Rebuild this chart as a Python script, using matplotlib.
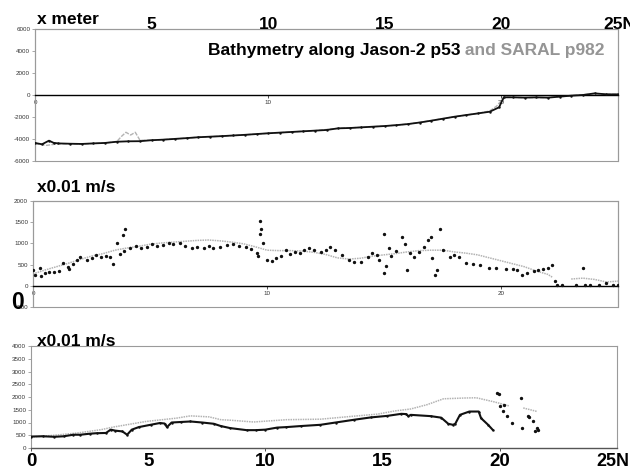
import matplotlib
matplotlib.use("Agg")
import matplotlib.pyplot as plt
from matplotlib.patches import Rectangle

plt.rcParams['font.family'] = ['Liberation Sans', 'DejaVu Sans']

# ---------------- data ----------------
# Bathymetry (m) along Jason-2 p53 (black) and SARAL p982 (gray)
jason_bx = [0, 0.3, 0.6, 0.8, 1.0, 1.5, 2, 2.5, 3, 3.5, 4, 4.5, 5, 5.5, 6, 6.5, 7, 7.5,
            8, 8.5, 9, 9.5, 10, 10.5, 11, 11.5, 12, 12.5, 13, 13.5, 14, 14.5, 15, 15.5,
            16, 16.5, 17, 17.5, 18, 18.5, 19, 19.5, 19.9, 20.1, 20.5, 21, 21.5, 22, 22.5,
            23, 23.5, 24, 24.5, 25]
jason_depth = [-4360, -4480, -4150, -4350, -4400, -4430, -4450, -4400, -4360, -4250, -4210,
               -4200, -4110, -4060, -3990, -3920, -3840, -3790, -3740, -3680, -3620, -3550,
               -3480, -3420, -3360, -3300, -3240, -3180, -3030, -3000, -2940, -2880, -2820,
               -2740, -2640, -2500, -2330, -2150, -1970, -1820, -1670, -1520, -1120, -210,
               -210, -240, -210, -240, -150, -60, 0, 150, 60, 60]
saral_bx = [0, 0.5, 1, 2, 3, 3.5, 3.7, 3.9, 4.1, 4.3, 4.5, 5, 6, 7, 8, 9, 10, 11, 12, 13,
            14, 15, 16, 17, 18, 19, 19.5, 19.8, 20.0, 20.2, 21, 22, 23, 24, 25]
saral_depth = [-4400, -4580, -4430, -4450, -4360, -4250, -3780, -3390, -3640, -3390, -4110,
               -4110, -3990, -3840, -3740, -3620, -3480, -3360, -3240, -3030, -2940, -2820,
               -2640, -2330, -1970, -1670, -1450, -1000, -500, -200, -240, -240, -60, 120, 50]

# Wind speed (x0.01 m/s) Jason2_p53 (black dots) and ECMWF (gray)
j2_x = [0.0, 0.1, 0.3, 0.35, 0.5, 0.7, 0.9, 1.1, 1.3, 1.5, 1.55, 1.7, 1.9, 2.0, 2.3, 2.5, 2.7,
        2.9, 3.1, 3.3, 3.4, 3.6, 3.7, 3.85, 3.95, 3.9, 4.15, 4.4, 4.6, 4.86, 5.1, 5.3, 5.57,
        5.8, 6.0, 6.3, 6.5, 6.8, 7.0, 7.3, 7.5, 7.7, 8.0, 8.3, 8.55, 8.8, 9.1, 9.3, 9.56, 9.6,
        9.7, 9.72, 9.75, 9.85, 10.0, 10.2, 10.4, 10.6, 10.8, 11.0, 11.2, 11.4, 11.6, 11.8,
        12.0, 12.3, 12.5, 12.7, 12.9, 13.2, 13.5, 13.7, 14.0, 14.3, 14.5, 14.7, 14.8, 15.0,
        15.0, 15.1, 15.2, 15.3, 15.5, 15.75, 15.9, 16.0, 16.1, 16.3, 16.5, 16.7, 16.9, 17.0,
        17.05, 17.2, 17.25, 17.4, 17.5, 17.8, 18.0, 18.2, 18.5, 18.8, 19.1, 19.5, 19.8, 20.2,
        20.5, 20.7, 20.9, 21.1, 21.4, 21.6, 21.8, 22.0, 22.2, 22.3, 22.4, 22.6, 23.5, 23.2,
        23.6, 23.8, 24.2, 24.5, 24.8, 25.0]
j2_v = [370, 250, 420, 230, 300, 330, 320, 360, 530, 440, 400, 520, 620, 680, 600, 650, 720,
        690, 700, 680, 510, 1000, 760, 1190, 1330, 820, 880, 950, 900, 920, 980, 950, 970,
        1000, 980, 1000, 940, 900, 920, 880, 930, 900, 920, 960, 990, 950, 920, 870, 770, 700,
        1230, 1540, 1340, 1000, 610, 580, 650, 700, 840, 750, 800, 770, 850, 880,
        850, 800, 850, 920, 850, 720, 620, 570, 570, 680, 770, 720, 600, 1210,
        300, 460, 880, 700, 820, 1150, 990, 380, 770, 680, 800, 920, 1070, 1150,
        650, 260, 370, 1350, 840, 680, 720, 680, 530, 520, 490, 420, 430, 400,
        390, 380, 260, 300, 360, 380, 390, 420, 490, 110, 20, 10, 430, 20,
        20, 20, 30, 60, 20, 20]
ec1_x = [0, 0.5, 1, 1.5, 2, 2.5, 3, 3.5, 4, 4.5, 5, 5.5, 6, 6.5, 7, 7.5, 8, 8.5, 9, 9.5, 10,
         10.5, 11, 11.5, 12, 12.5, 13, 13.5, 14, 14.5, 15, 15.5, 16, 16.5, 17, 17.5, 18, 18.5,
         19, 19.5, 20, 20.5, 21, 21.5, 22, 22.2]
ec1_v = [280, 370, 450, 530, 620, 700, 760, 840, 890, 930, 980, 1010, 1030, 1050, 1070, 1080,
         1060, 1030, 990, 920, 840, 830, 830, 820, 790, 740, 660, 630, 650, 700, 730, 760, 800,
         830, 840, 840, 800, 770, 730, 660, 590, 520, 450, 350, 270, 200]
ec1b_x = [23.0, 23.5, 24.0, 24.5, 25.0]
ec1b_v = [160, 180, 150, 90, 110]

# Wind speed (x0.01 m/s) SARAL_p982 (black) and ECMWF (gray)
sa_x = [0, 0.5, 1, 1.4, 1.8, 2.1, 2.5, 2.8, 3.2, 3.4, 3.6, 3.9, 4.1, 4.3, 4.6, 5.1, 5.5, 5.7,
        5.8, 6.0, 6.4, 6.8, 7.3, 7.8, 8.1, 8.5, 9.2, 9.6, 10.0, 10.5, 10.9, 11.5, 12.35, 13.0,
        13.8, 14.5, 15.2, 15.8, 16.0, 16.1, 16.2, 17.05, 17.5, 17.8, 18.0, 18.1, 18.3, 18.7,
        19.1, 19.2, 19.5, 19.7]
sa_v = [450, 460, 440, 460, 520, 520, 560, 580, 590, 720, 680, 650, 520, 720, 820, 910, 980,
        960, 820, 1000, 1020, 1040, 1000, 950, 860, 780, 700, 700, 720, 800, 820, 860, 910, 1000,
        1110, 1200, 1260, 1340, 1330, 1250, 1300, 1250, 1190, 950, 910, 950, 1300, 1430,
        1430, 1170, 910, 710]
sa_sc_x = [19.9, 19.95, 20.0, 20.2, 20.15, 20.3, 20.5, 20.9, 20.95, 21.2, 21.25, 21.4, 21.5,
           21.6, 21.65]
sa_sc_v = [2150, 2100, 1640, 1700, 1440, 1240, 990, 1970, 780, 1240, 1200, 1050, 650, 780, 690]
ec2_x = [0, 1, 2, 3, 3.5, 4.2, 4.9, 5.5, 6.2, 6.8, 7.6, 8.1, 8.5, 9.5, 10.9, 12.35, 13.8, 14.8,
         15.5, 16.2, 16.9, 17.6, 18.5, 19.0, 19.8, 20.4]
ec2_v = [430, 500, 590, 720, 820, 930, 1040, 1100, 1170, 1260, 1220, 1110, 1090, 1020, 1110,
         1130, 1250, 1330, 1450, 1530, 1700, 1930, 1960, 1970, 1800, 1650]
ec2b_x = [21.0, 21.3, 21.6]
ec2b_v = [1570, 1500, 1430]

top_labels = ["5", "10", "15", "20"]
top_pos = [5, 10, 15, 20]
bottom_labels = ["0", "5", "10", "15", "20"]
bottom_pos = [0, 5, 10, 15, 20]

# ---------------- figure ----------------
W, H = 630, 470
fig = plt.figure(figsize=(6.3, 4.7), dpi=100)


def add_ax(l, t, r, b):
    return fig.add_axes([l / W, 1 - b / H, (r - l) / W, (b - t) / H])


ax1 = add_ax(35, 29, 618, 161)
ax2 = add_ax(33, 201, 618, 307)
ax3 = add_ax(31, 346, 617, 448)

GRAY = '#9a9a9a'
LINEGRAY = '#b3b3b3'
TICKC = '#333333'


def style(ax, ylim, yticks, zero_axis=True):
    ax.set_xlim(0, 25)
    ax.set_ylim(*ylim)
    ax.set_yticks(yticks)
    ax.set_yticklabels([str(v) for v in yticks])
    for s in ['top', 'right', 'left']:
        ax.spines[s].set_color(GRAY)
        ax.spines[s].set_linewidth(0.8)
    ax.set_xticks([0, 10, 20])
    if zero_axis:
        ax.spines['bottom'].set_position(('data', 0))
        ax.spines['bottom'].set_color('black')
        ax.spines['bottom'].set_linewidth(1.0)
        ax.add_patch(Rectangle((0, 0), 1, 1, transform=ax.transAxes, fill=False,
                               ec=GRAY, lw=0.8, clip_on=False, zorder=0))
        ax.set_xticklabels(['0', '10', '20'])
    else:
        ax.spines['bottom'].set_color('#555555')
        ax.spines['bottom'].set_linewidth(1.0)
        ax.set_xticklabels([])
    ax.tick_params(axis='both', labelsize=4.5, colors=TICKC, length=2, width=0.6, pad=1.5,
                   direction='out')
    ax.tick_params(axis='y', colors=GRAY, labelcolor=TICKC)


style(ax1, (-6000, 6000), list(range(-6000, 6001, 2000)))
style(ax2, (-500, 2000), list(range(-500, 2001, 500)))
style(ax3, (0, 4000), list(range(0, 4001, 500)), zero_axis=False)

DOTTED = (0, (1, 0.6))

# panel 1
ax1.plot(saral_bx, saral_depth, color=LINEGRAY, lw=1.0, ls=(0, (3, 1)), zorder=2)
ax1.plot(jason_bx, jason_depth, color='#111111', lw=1.3, marker='.', ms=1.5, zorder=3)

# panel 2
ax2.plot(ec1_x, ec1_v, color=LINEGRAY, lw=1.1, ls=DOTTED, zorder=2)
ax2.plot(ec1b_x, ec1b_v, color=LINEGRAY, lw=1.1, ls=DOTTED, zorder=2)
ax2.plot(j2_x, j2_v, ls='none', marker='o', ms=1.4, color='#111111', zorder=3)

# panel 3
ax3.plot(ec2_x, ec2_v, color=LINEGRAY, lw=1.1, ls=DOTTED, zorder=2)
ax3.plot(ec2b_x, ec2b_v, color=LINEGRAY, lw=1.1, ls=DOTTED, zorder=2)
ax3.plot(sa_x, sa_v, color='#111111', lw=1.5, marker='.', ms=1.5, zorder=3)
ax3.plot(sa_sc_x, sa_sc_v, ls='none', marker='o', ms=1.4, color='#111111', zorder=3)

# ---------------- text ----------------
BIG = 12.5
TG = '#959595'


def fx(px):
    return px / W


def fy(py):
    return 1 - py / H


fig.text(fx(37), fy(24), "x meter", fontsize=BIG, fontweight='bold', va='baseline')
ax1_left, ax1_w = 35, 618 - 35
for lab, p in zip(top_labels, top_pos):
    fig.text(fx(ax1_left + ax1_w * p / 25), fy(29), lab, fontsize=BIG, fontweight='bold',
             ha='center', va='baseline')
fig.text(fx(603), fy(29), "25N", fontsize=BIG, fontweight='bold', ha='left', va='baseline')

ax3_left, ax3_w = 31, 617 - 31
for lab, p in zip(bottom_labels, bottom_pos):
    fig.text(fx(ax3_left + ax3_w * p / 25), fy(466), lab, fontsize=BIG + 1, fontweight='bold',
             ha='center', va='baseline')
fig.text(fx(596), fy(466), "25N", fontsize=BIG + 0.5, fontweight='bold', ha='left',
         va='baseline')

fig.text(fx(11), fy(309), "0", fontsize=BIG + 4, fontweight='bold', ha='left', va='baseline')
fig.text(fx(37), fy(192), "x0.01 m/s", fontsize=BIG, fontweight='bold', va='baseline')
fig.text(fx(37), fy(346), "x0.01 m/s", fontsize=BIG, fontweight='bold', va='baseline')


def title_parts(x, y, parts, size=BIG):
    prev = None
    for s, c in parts:
        if prev is None:
            prev = ax1.annotate(s, xy=(x, y), xycoords='figure fraction', color=c,
                                fontsize=size, fontweight='bold', va='baseline', ha='left')
        else:
            prev = ax1.annotate(s, xy=(1, 0), xycoords=prev, xytext=(0, 0),
                                textcoords='offset points', color=c, fontsize=size,
                                fontweight='bold', va='bottom', ha='left')
    return prev


title_parts(fx(208), fy(55), [("Bathymetry along Jason-2 p53", 'black'),
                              (" and SARAL p982", TG)])
title_parts(fx(283), fy(220), [("Wind Speed (Jason2_p53 and ", 'black'), ("ECMWF", TG),
                               (")", 'black')])
title_parts(fx(273), fy(366), [("Wind Speed (SARAL_p982 and ", 'black'), ("ECMWF", TG),
                               (")", 'black')])

fig.savefig("out.png", dpi=100)
